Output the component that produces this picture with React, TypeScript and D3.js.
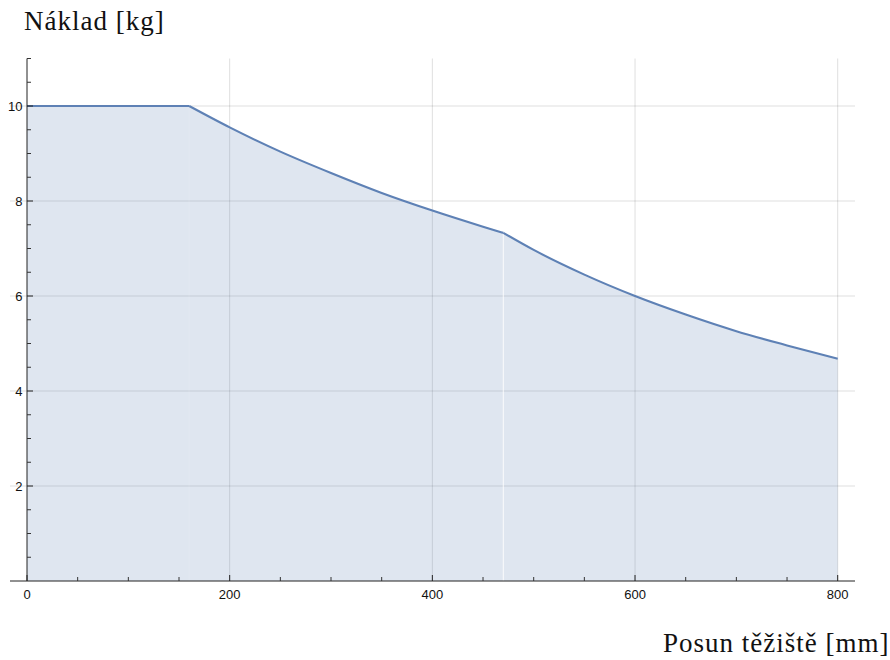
import React from "react";
import * as d3 from "d3";

const posX = [0, 160, 200, 250, 300, 350, 400, 450, 470, 500, 550, 600, 650, 700, 750, 800];
const load = [10, 10, 9.55, 9.04, 8.59, 8.17, 7.8, 7.46, 7.33, 6.97, 6.45, 6.0, 5.61, 5.26, 4.96, 4.68];
const breakpoints = [160, 470];
const xMajor = [0, 200, 400, 600, 800];
const yMajor = [2, 4, 6, 8, 10];
const yTitle = "Náklad [kg]";
const xTitle = "Posun těžiště [mm]";

const W = 890;
const H = 660;
const BLUE = "#5E81B5";

export default function App() {
  const x = d3.scaleLinear().domain([0, 800]).range([27, 837.7]);
  const y = d3.scaleLinear().domain([0, 11]).range([581, 58.5]);
  const xLeft = 10;
  const xRight = 855;

  const pts = posX.map((v, i) => ({ x: v, y: load[i] }));
  const edges = [0, ...breakpoints, 800];
  const segs: { x: number; y: number }[][] = [];
  for (let i = 0; i < edges.length - 1; i++) {
    segs.push(pts.filter((p) => p.x >= edges[i] && p.x <= edges[i + 1]));
  }
  const line = d3
    .line<{ x: number; y: number }>()
    .x((d) => x(d.x))
    .y((d) => y(d.y))
    .curve(d3.curveMonotoneX);
  const area = d3
    .area<{ x: number; y: number }>()
    .x((d) => x(d.x))
    .y0(y(0))
    .y1((d) => y(d.y))
    .curve(d3.curveMonotoneX);

  const xMinor = d3.range(0, 801, 50).filter((v) => !xMajor.includes(v));
  const yMinor = d3.range(0.5, 11.01, 0.5).filter((v) => !yMajor.includes(v));

  return (
    <svg
      width={W}
      height={H}
      style={{ position: "absolute", left: 0, top: 0, background: "#fff" }}
    >
      {/* grid */}
      {yMajor.map((v) => (
        <line key={"gy" + v} x1={xLeft} x2={xRight} y1={y(v)} y2={y(v)} stroke="#000" strokeOpacity={0.13} strokeWidth={1} />
      ))}
      {xMajor.filter((v) => v !== 0).map((v) => (
        <line key={"gx" + v} x1={x(v)} x2={x(v)} y1={y(11)} y2={y(0)} stroke="#000" strokeOpacity={0.13} strokeWidth={1} />
      ))}
      {/* filled areas */}
      {segs.map((s, i) => (
        <path key={"a" + i} d={area(s) || ""} fill={BLUE} fillOpacity={0.2} stroke="none" />
      ))}
      {/* seams between fill pieces */}
      {breakpoints.map((b, i) => (
        <line
          key={"s" + b}
          x1={x(b)}
          x2={x(b)}
          y1={y(load[posX.indexOf(b)])}
          y2={y(0)}
          stroke="#fff"
          strokeOpacity={i === 0 ? 0.15 : 0.85}
          strokeWidth={1}
        />
      ))}
      {/* curve */}
      {segs.map((s, i) => (
        <path key={"l" + i} d={line(s) || ""} fill="none" stroke={BLUE} strokeWidth={2.1} strokeLinejoin="round" />
      ))}
      {/* axes */}
      <line x1={xLeft} x2={xRight} y1={y(0)} y2={y(0)} stroke="#222" strokeWidth={1} />
      <line x1={x(0)} x2={x(0)} y1={y(11)} y2={y(0)} stroke="#222" strokeWidth={1} />
      {xMajor.map((v) => (
        <line key={"xt" + v} x1={x(v)} x2={x(v)} y1={y(0)} y2={y(0) - 6} stroke="#222" />
      ))}
      {xMinor.map((v) => (
        <line key={"xm" + v} x1={x(v)} x2={x(v)} y1={y(0)} y2={y(0) - 4} stroke="#333" />
      ))}
      {yMajor.map((v) => (
        <line key={"yt" + v} x1={x(0)} x2={x(0) + 6} y1={y(v)} y2={y(v)} stroke="#222" />
      ))}
      {yMinor.map((v) => (
        <line key={"ym" + v} x1={x(0)} x2={x(0) + 4} y1={y(v)} y2={y(v)} stroke="#333" />
      ))}
      {/* tick labels */}
      {xMajor.map((v) => (
        <text key={"xl" + v} x={x(v)} y={598.5} textAnchor="middle" fontFamily="'Liberation Sans', Arial, sans-serif" fontSize={13} fill="#111">
          {v}
        </text>
      ))}
      {yMajor.map((v) => (
        <text key={"yl" + v} x={22.5} y={y(v) + 4.5} textAnchor="end" fontFamily="'Liberation Sans', Arial, sans-serif" fontSize={13} fill="#111">
          {v}
        </text>
      ))}
      {/* titles */}
      <text x={24} y={30} fontFamily="'Liberation Serif', 'Times New Roman', serif" fontSize={27} letterSpacing={1} fill="#111">
        {yTitle}
      </text>
      <text x={663} y={652} fontFamily="'Liberation Serif', 'Times New Roman', serif" fontSize={27} letterSpacing={1} fill="#111">
        {xTitle}
      </text>
    </svg>
  );
}
